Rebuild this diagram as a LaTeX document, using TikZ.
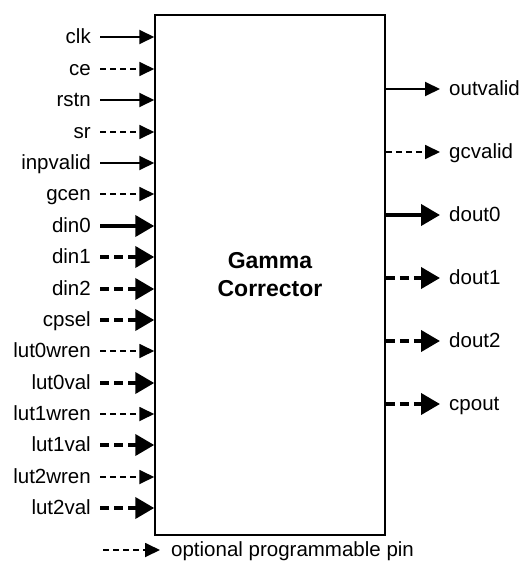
\documentclass[tikz,border=0pt]{standalone}
\usepackage{fontspec}
\setmainfont{Liberation Sans}
\usetikzlibrary{arrows.meta}
\begin{document}
\begin{tikzpicture}[x=1pt,y=-1pt,
  lbl/.style={font=\fontsize{20.5}{24}\selectfont, inner ysep=0pt, text height=15pt, text depth=3pt},
  inlbl/.style={lbl, anchor=east, inner xsep=9pt},
  outlbl/.style={lbl, anchor=west, inner xsep=9pt},
  sig/.style={line width=2pt, -{Triangle[length=15pt 0,width=14pt 0]}},
  optsig/.style={sig, line width=1.8pt, dash pattern=on 6pt off 4pt},
  bus/.style={line width=4pt, -{Triangle[length=19pt 0,width=21pt 0]}},
  optbus/.style={bus, dash pattern=on 9pt off 5pt},
  blk/.style={draw, line width=1.5pt, minimum width=230pt, minimum height=520pt, align=center,
    font=\fontsize{23}{28}\selectfont\bfseries}]
\useasboundingbox (0,0) rectangle (523,562);
\node[blk] (box) at (270,275) {Gamma\\Corrector};
% inputs
\foreach \name/\y/\st in {clk/37/sig, ce/69/optsig, rstn/100/sig, sr/132/optsig,
  inpvalid/163/sig, gcen/194/optsig, din0/226/bus, din1/257/optbus, din2/289/optbus,
  cpsel/320/optbus, lut0wren/351/optsig, lut0val/383/optbus, lut1wren/414/optsig,
  lut1val/445/optbus, lut2wren/477/optsig, lut2val/508/optbus}{
  \node[inlbl] (in-\name) at (100,\y) {\name};
  \draw[\st] (in-\name.east) -- (in-\name.east -| box.west);
}
% outputs
\foreach \name/\y/\st in {outvalid/89/sig, gcvalid/152/optsig, dout0/215/bus,
  dout1/278/optbus, dout2/341/optbus, cpout/404/optbus}{
  \node[outlbl] (out-\name) at (440,\y) {\name};
  \draw[\st] (out-\name.west -| box.east) -- (out-\name.west);
}
% legend
\node[outlbl, inner xsep=11pt] (legend) at (160,550) {optional programmable pin};
\coordinate (legstart) at (103,550);
\draw[optsig] (legstart) -- (legend.west);
\end{tikzpicture}
\end{document}
